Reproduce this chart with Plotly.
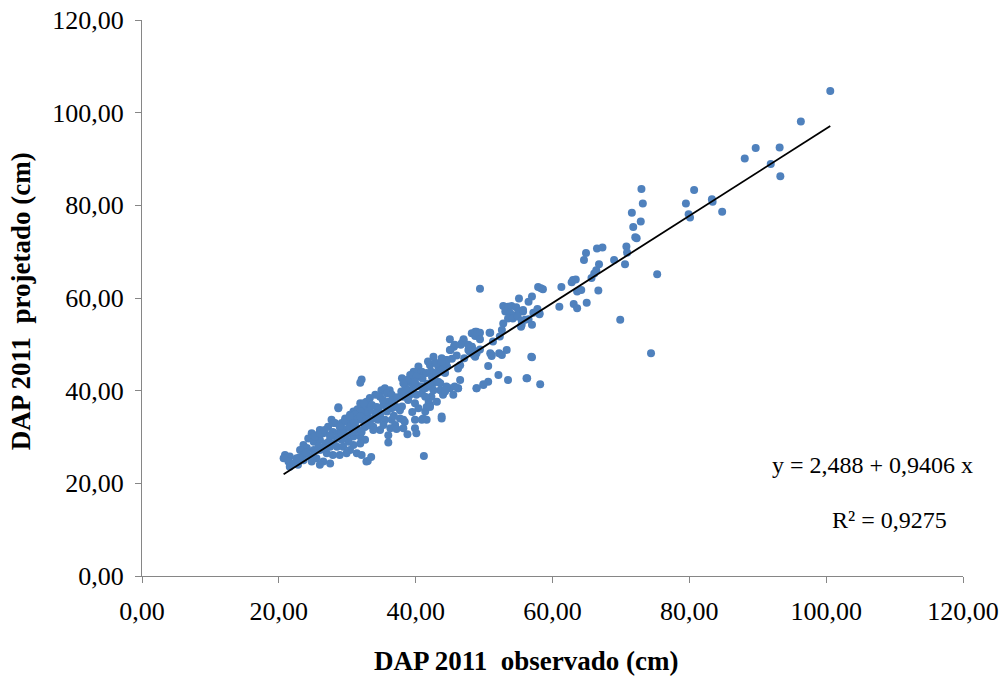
import plotly.graph_objects as go

# ---------------- data (observed DAP, projected DAP) ----------------
pts_dense_low = [
    (31.9,37.3),(32.6,36.5),(32.8,35.1),(31.9,34.8),(30.9,35.5),(30.4,34.8),(29.7,34.0),(30.2,33.0),(31.1,33.0),(32.1,33.7),
    (32.6,32.2),(31.6,31.5),(30.6,31.9),(29.2,33.0),(28.2,33.0),(27.7,33.7),(27.2,32.2),(27.9,31.1),(28.9,31.1),(29.7,30.4),
    (30.9,30.1),(31.9,30.1),(32.6,29.4),(31.9,28.6),(30.9,28.3),(30.2,29.0),(29.2,29.4),(28.5,29.7),(27.5,30.1),(26.5,30.8),
    (26.0,31.5),(25.5,30.4),(24.8,30.8),(24.3,29.7),(25.1,29.0),(26.0,29.4),(26.8,28.6),(27.5,27.9),(28.5,27.9),(29.4,27.9),
    (30.4,27.2),(31.4,26.5),(32.1,26.1),(32.8,24.7),(29.9,26.5),(28.9,26.1),(27.9,26.1),(27.0,26.5),(26.0,27.2),(25.1,27.2),
    (24.1,27.6),(23.6,28.3),(23.1,27.2),(23.6,26.1),(24.6,25.8),(25.5,25.4),(26.5,24.7),(27.5,24.3),(26.0,24.0),(24.8,24.7),
    (23.6,25.0),(22.6,25.4),(21.6,25.8),(20.9,26.1),(20.7,25.4),(21.4,24.7),(22.1,24.3),(22.8,24.0),(21.6,23.6),(28.7,36.4),
    (23.0,25.6),(24.0,26.6),(25.0,26.0),(25.8,28.0),(26.6,27.6),(27.3,29.0),(28.0,28.6),(28.7,30.0),(29.5,31.6),(30.3,32.0),
    (30.8,33.8),(31.5,36.0),(32.2,36.3),(33.0,34.5),(33.9,34.0),(34.6,35.8),
]

pts_dense_mid = [
    (32.1,42.4),(31.9,41.7),(38.0,42.7),(40.4,45.2),(40.9,44.1),(40.1,43.8),(39.4,43.4),(42.1,45.5),(42.8,46.0),(43.3,45.2),
    (43.8,46.3),(44.5,46.6),(44.6,45.2),(44.3,43.8),(43.6,44.1),(42.8,43.8),(42.3,44.1),(41.6,43.8),
    (38.9,42.0),(39.4,41.6),(39.9,40.9),(39.2,40.1),(38.7,39.4),(40.1,39.1),(40.9,39.4),(41.4,40.5),(42.1,40.9),(42.6,41.6),
    (43.3,41.9),(43.6,40.1),(44.5,40.5),(44.0,39.1),(42.3,38.7),(41.9,37.6),(40.4,36.2),(41.4,35.5),(42.1,36.9),(43.8,34.0),
    (40.9,33.7),(39.9,31.9),(37.7,35.8),(37.2,36.5),(37.7,34.0),(38.2,33.7),(38.2,31.9),
    (35.0,40.1),(35.5,40.5),(36.2,40.1),(35.8,39.4),(36.5,39.1),(34.8,38.7),(34.1,39.1),(33.3,38.4),(32.8,37.6),(32.4,37.3),
    (33.6,36.9),(34.3,36.5),(35.3,36.9),(36.0,37.6),(36.5,36.2),(35.8,35.5),(34.8,34.8),(34.1,35.1),(33.3,35.8),(32.6,35.1),
    (31.9,35.5),(31.1,34.8),(31.4,33.7),(32.4,33.7),(33.3,33.3),(34.5,33.7),(35.5,33.7),(35.3,32.6),(33.8,32.2),(32.6,32.2),
    (31.1,32.6),(36.5,33.7),(37.0,32.6),(36.3,31.9),
    (34.8,31.5),(36.0,30.4),(37.2,31.7),(38.4,33.3),(39.9,33.7),(40.1,30.8),(41.6,33.7),(28.7,36.2),(25.3,30.1),(26.0,30.8),
    (26.7,31.5),(27.5,30.4),(28.0,33.0),(28.9,32.2),(29.7,33.7),(30.4,34.4),(31.1,33.0),(31.9,34.4),(32.8,33.7),(33.3,32.6),
    (33.8,31.5),(32.1,31.1),(30.9,31.1),(29.9,30.4),(29.2,30.8),
    (33.0,24.8),(33.5,25.7),(41.2,25.9),(36.0,28.8),(38.8,30.6),
    (35.2,38.0),(35.9,36.4),(36.6,37.9),(37.3,38.6),(37.9,39.8),(38.5,40.6),(39.1,39.0),(39.6,42.4),(40.4,41.0),(41.0,42.6),
    (41.7,41.5),(42.4,42.9),(43.0,43.6),(44.0,44.5),(45.3,46.9),(46.0,47.6),(47.1,47.0),(36.8,34.6),(38.0,36.6),(39.5,35.4),
]

pts_upper_mid = [
    (50.9,52.5),(48.9,52.7),(48.2,52.4),(48.7,51.8),(45.0,51.1),(46.7,50.2),(47.0,51.1),(45.1,48.8),(45.6,49.5),(47.7,48.8),
    (48.2,49.5),(48.5,47.7),(48.9,48.1),(49.4,48.9),(51.1,47.7),(52.2,48.1),(53.3,48.8),(50.6,45.3),(52.1,43.4),(53.5,42.3),
    (56.2,42.7),(42.6,47.3),(43.1,45.9),(44.5,46.3),(43.8,47.0),(41.8,46.3),(39.7,44.1),(39.2,43.4),(38.7,42.3),(38.2,41.6),
    (40.1,43.0),(39.9,41.9),(40.9,40.9),(42.1,41.2),(42.6,40.1),(43.6,41.6),(44.3,39.8),(45.0,40.5),(45.5,39.1),(46.2,40.5),
    (46.5,42.3),(48.9,40.5),(49.9,41.2),(50.6,41.9),(38.2,38.7),(38.9,38.0),(39.9,37.3),(41.4,38.7),(41.6,36.5),(42.1,36.5),
    (43.1,37.6),(43.8,34.4),(41.1,34.0),
    (49.4,62.0),(57.9,62.4),(58.3,62.1),(55.1,59.9),(57.0,60.3),(56.5,59.2),(52.8,58.3),(53.5,58.1),(54.0,58.3),(54.7,58.0),
    (53.1,57.1),(53.8,56.7),(54.4,56.3),(55.1,57.1),(55.7,57.1),(53.5,55.6),(54.2,55.6),(54.9,56.0),(55.5,55.1),(56.5,55.4),
    (57.2,56.8),(57.7,57.1),(58.1,56.7),(57.0,54.2),(55.4,53.8),(52.8,54.5),(52.6,53.1),(48.7,52.7),(49.0,52.4),(49.4,52.5),
    (50.8,52.5),(51.3,50.6),(52.3,51.7),(50.9,48.1),(52.6,47.7),(51.1,47.5),(49.4,51.1),(47.0,50.9),(46.6,49.9),(45.7,49.9),
    (45.0,48.8),(47.7,49.9),(48.2,49.5),(48.4,48.8),(47.9,48.4),(48.7,47.3),(44.5,46.6),(44.3,45.9),(43.8,46.3),(46.5,45.5),
    (46.2,44.8),(57.0,47.2),(58.2,41.4),(49.9,41.4),(48.9,40.5),(46.2,40.5),(45.7,40.9),(44.5,40.9),(44.3,40.1),
]

pts_sparse = [
    (72.3,72.9),(66.5,70.7),(67.3,70.9),(64.9,69.7),(64.6,68.2),(66.8,67.3),(70.8,71.1),(70.9,69.8),(69.0,68.2),(70.6,67.3),
    (75.3,65.1),(66.4,66.0),(66.1,65.3),(65.7,64.3),(66.7,61.6),(63.0,63.9),(63.4,64.0),(62.8,63.4),(63.6,61.4),(64.2,61.7),
    (61.3,62.4),(58.6,61.9),(65.0,59.0),(63.1,58.7),(63.6,57.8),(61.0,58.1),(57.8,57.6),(58.1,56.5),(55.7,57.4),(55.5,54.2),
    (56.0,55.3),(69.9,55.3),(74.4,48.1),(56.9,47.3),(56.3,42.7),
    (73.0,83.5),(73.2,80.4),(72.9,76.5),(71.6,78.4),(71.8,75.3),(72.1,73.1),(80.7,83.3),(79.5,80.4),(83.3,81.3),(83.4,80.8),
    (79.9,78.1),(80.1,77.4),(84.8,78.6),(88.1,90.1),(89.7,92.4),(91.9,88.9),(93.3,86.3),(93.2,92.5),(96.3,98.1),(100.6,104.7),
]

# trend line coefficients (from the chart's equation)
intercept = 2.488
slope = 0.9406
eq_text = "y = 2,488 + 0,9406 x"
r2_text = "R² = 0,9275"

tick_vals = [0, 20, 40, 60, 80, 100, 120]
tick_text = ["0,00", "20,00", "40,00", "60,00", "80,00", "100,00", "120,00"]

x_title = "DAP 2011  observado (cm)"
y_title = "DAP 2011  projetado (cm)"

# ---------------- figure ----------------
all_pts = pts_dense_low + pts_dense_mid + pts_upper_mid + pts_sparse
xs = [p[0] for p in all_pts]
ys = [p[1] for p in all_pts]

FONT = "Liberation Serif, Times New Roman, serif"

fig = go.Figure()
fig.add_trace(go.Scatter(
    x=xs, y=ys, mode="markers",
    marker=dict(size=8, color="#4F81BD", line=dict(width=0)),
    hoverinfo="skip",
))
x0, x1 = min(xs), max(xs)
fig.add_trace(go.Scatter(
    x=[x0, x1], y=[intercept + slope * x0, intercept + slope * x1],
    mode="lines", line=dict(color="black", width=1.8), hoverinfo="skip",
))

axis_common = dict(
    range=[0, 120], tickvals=tick_vals, ticktext=tick_text,
    showline=True, linecolor="#868686", linewidth=1,
    ticks="outside", ticklen=6, tickcolor="#868686", tickwidth=1,
    showgrid=False, zeroline=False, automargin=False,
    tickfont=dict(family=FONT, size=26, color="black"),
    ticklabelstandoff=6,
)
fig.update_xaxes(**axis_common)
fig.update_yaxes(**axis_common)

fig.update_layout(
    width=1006, height=679,
    margin=dict(l=142, r=43, t=20, b=103, autoexpand=False),
    plot_bgcolor="white", paper_bgcolor="white",
    showlegend=False,
    font=dict(family=FONT, color="black"),
    annotations=[
        dict(text=f"<b>{x_title}</b>", xref="paper", yref="paper", x=0.4675, y=-0.153,
             xanchor="center", yanchor="middle", showarrow=False,
             font=dict(family=FONT, size=27, color="black")),
        dict(text=f"<b>{y_title}</b>", xref="paper", yref="paper", x=-0.148, y=0.495,
             xanchor="center", yanchor="middle", showarrow=False, textangle=-90,
             font=dict(family=FONT, size=27, color="black")),
        dict(text=eq_text, xref="paper", yref="paper", x=0.890, y=0.1996,
             xanchor="center", yanchor="middle", showarrow=False,
             font=dict(family=FONT, size=24, color="black")),
        dict(text=r2_text, xref="paper", yref="paper", x=0.910, y=0.1007,
             xanchor="center", yanchor="middle", showarrow=False,
             font=dict(family=FONT, size=24, color="black")),
    ],
)

fig.write_html("out.html")
